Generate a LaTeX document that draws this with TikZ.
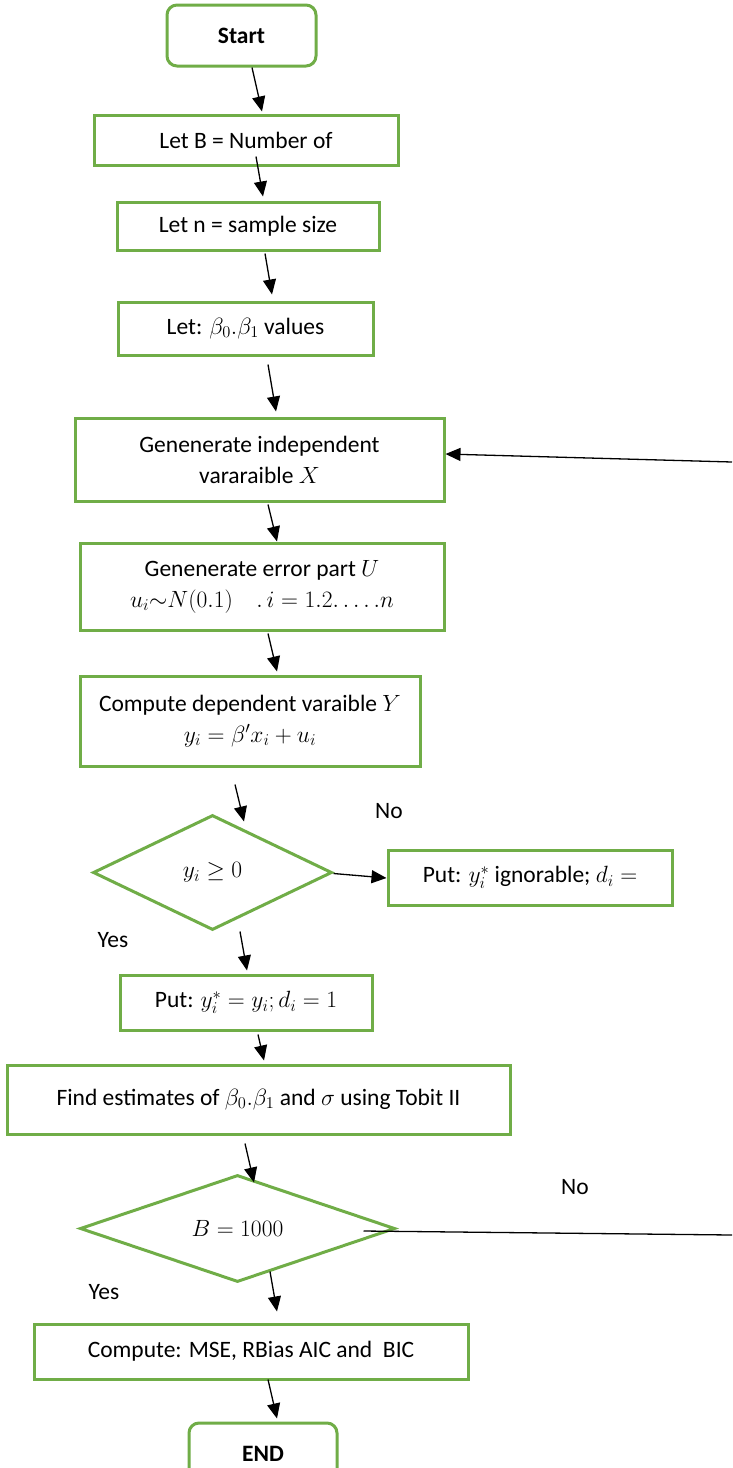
\documentclass[tikz,border=0pt]{standalone}
\usepackage{fix-cm}
\usepackage{amsmath,amssymb}
\usepackage{fontspec}
\setmainfont{Carlito}
\usetikzlibrary{shapes.geometric,arrows.meta}
\definecolor{gr}{RGB}{112,173,71}
\begin{document}
\begin{tikzpicture}[x=1pt,y=-1pt,
  txt/.style={font=\fontsize{23.5}{31}\selectfont},
  box/.style={txt,draw=gr,line width=3pt,rectangle,inner sep=0pt,align=center},
  term/.style={box,rounded corners=10pt,font=\fontsize{23.5}{31}\selectfont\bfseries},
  dec/.style={txt,draw=gr,line width=3pt,diamond,aspect=2,inner sep=0pt},
  arr/.style={black,line width=1.3pt,-{Triangle[length=15pt,width=13pt]}},
  lin/.style={black,line width=1.3pt}
]
\useasboundingbox (0,0) rectangle (732,1468);
\clip (0,0) rectangle (732,1468);
\fill[white] (0,0) rectangle (732,1468);

\node[term,minimum width=149pt,minimum height=61pt] (start) at (241.5,35.5) {Start};
\node[box,minimum width=304pt,minimum height=50pt] (nb) at (246,140) {Let B = Number of};
\node[box,minimum width=262pt,minimum height=48pt] (nn) at (248,226) {Let n = sample size};
\node[box,minimum width=255pt,minimum height=53pt] (nbeta) at (245.5,328.5) {Let: $\beta_0.\beta_1$ values};
\node[box,minimum width=369pt,minimum height=83pt] (gx) at (259.5,459.5) {Genenerate independent\\ vararaible $X$};
\node[box,minimum width=364pt,minimum height=87pt] (gu) at (262,586.5) {Genenerate error part $U$\\ $u_i{\sim}N(0.1)\quad .\,i=1.2.\ldots.n$};
\node[box,minimum width=340pt,minimum height=90pt] (cy) at (250,721) {Compute dependent varaible $Y$\\ $y_i=\beta' x_i+u_i$};
\node[dec,minimum width=239pt,minimum height=115pt] (d1) at (212.5,872.5) {$y_i\geq 0$};
\node[box,minimum width=284pt,minimum height=55pt] (ign) at (530,877.5) {Put: $y_i^*$ ignorable; $d_i=$};
\node[box,minimum width=252pt,minimum height=55pt] (put) at (246,1002.5) {Put: $y_i^*=y_i; d_i=1$};
\node[box,minimum width=503pt,minimum height=69pt] (find) at (258.5,1099.5) {Find estimates of $\beta_0.\beta_1$ and $\sigma$ using Tobit II};
\node[dec,minimum width=315pt,minimum height=107pt] (d2) at (237.5,1228.5) {$B=1000$};
\node[box,minimum width=434pt,minimum height=55pt] (comp) at (251,1351.5) {Compute: MSE, RBias AIC and\ \ BIC};
\node[term,minimum width=148pt,minimum height=61pt] (fin) at (263,1453.5) {END};

\node[txt] (no1) at (389,811) {No};
\node[txt] (yes1) at (113,940) {Yes};
\node[txt] (no2) at (575,1187) {No};
\node[txt] (yes2) at (104,1292) {Yes};

\coordinate (r1) at (732,462);
\coordinate (r2) at (732,1235);

\draw[arr] ([shift={(10.5,0)}]start.south) -- ([shift={(16,-2)}]nb.north);
\draw[arr] ([shift={(10,-10)}]nb.south) -- ([shift={(15,-4)}]nn.north);
\draw[arr] ([shift={(17,2)}]nn.south) -- ([shift={(26.5,-6)}]nbeta.north);
\draw[arr] ([shift={(22.5,8)}]nbeta.south) -- ([shift={(16.5,-5)}]gx.north);
\draw[arr] ([shift={(8.5,2)}]gx.south) -- ([shift={(15,0)}]gu.north);
\draw[arr] ([shift={(6,2)}]gu.south) -- ([shift={(27,-3)}]cy.north);
\draw[arr] ([shift={(-15,17)}]cy.south) -- ([shift={(31.5,8)}]d1.north);
\draw[arr] ([shift={(0,1)}]d1.east) -- ([shift={(0,0.5)}]ign.west);
\draw[arr] ([shift={(27.5,0)}]d1.south) -- ([shift={(1,-3)}]put.north);
\draw[arr] ([shift={(12,3)}]put.south) -- ([shift={(5.5,-3)}]find.north);
\draw[arr] ([shift={(-13.5,8)}]find.south) -- ([shift={(16.5,9)}]d2.north);
\draw[arr] ([shift={(32.5,-12)}]d2.south) -- ([shift={(26,-11)}]comp.north);
\draw[arr] ([shift={(17,-1)}]comp.south) -- ([shift={(14,-3)}]fin.north);

\draw[arr] (r1) -- ([shift={(0,-5.5)}]gx.east);
\draw[lin] ([shift={(126,2.5)}]d2.center) -- (r2);
\end{tikzpicture}
\end{document}
